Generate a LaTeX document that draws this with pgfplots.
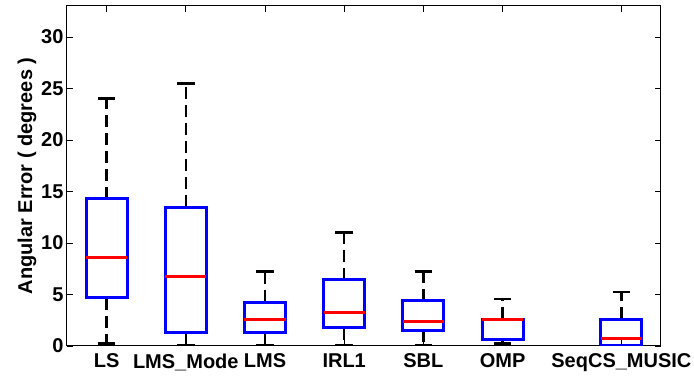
\documentclass[border=0pt]{standalone}
\usepackage{fontspec}
\setmainfont{Liberation Sans}
\usepackage{pgfplots}
\usepgfplotslibrary{statistics}
\pgfplotsset{compat=1.18}
\pgfplotsset{
  boxplot/draw/lower whisker/.code={%
    \draw[black, line width=2.5pt, dash pattern=on 12pt off 6pt]
      (boxplot whisker cs:\pgfplotsboxplotvalue{lower quartile},0.5) --
      (boxplot whisker cs:\pgfplotsboxplotvalue{lower whisker},0.5);
    \draw[black, line width=2.5pt]
      (boxplot whisker cs:\pgfplotsboxplotvalue{lower whisker},0) --
      (boxplot whisker cs:\pgfplotsboxplotvalue{lower whisker},1);
  },
  boxplot/draw/upper whisker/.code={%
    \draw[black, line width=2.5pt, dash pattern=on 12pt off 6pt]
      (boxplot whisker cs:\pgfplotsboxplotvalue{upper quartile},0.5) --
      (boxplot whisker cs:\pgfplotsboxplotvalue{upper whisker},0.5);
    \draw[black, line width=2.5pt]
      (boxplot whisker cs:\pgfplotsboxplotvalue{upper whisker},0) --
      (boxplot whisker cs:\pgfplotsboxplotvalue{upper whisker},1);
  },
  boxplot/every box/.style={draw=blue, line width=3pt, fill=none},
  boxplot/every median/.style={draw=red, line width=3pt},
}
\begin{document}
\begin{tikzpicture}
\begin{axis}[
  scale only axis,
  width=594pt, height=340pt,
  xmin=0.5, xmax=8, ymin=0, ymax=33,
  ytick={0,5,10,15,20,25,30},
  xtick={1,2,3,4,5,6,7.5},
  xticklabels={LS,LMS\_Mode,LMS,IRL1,SBL,OMP,SeqCS\_MUSIC},
  tick align=inside, tick pos=both,
  major tick length=6pt,
  every tick/.style={black, line width=0.8pt},
  axis line style={black, line width=1pt},
  tick label style={font=\fontsize{20}{24}\selectfont\bfseries},
  x tick label style={yshift=-4pt},
  /pgf/number format/assume math mode=true,
  ylabel={Angular Error ( degrees )},
  ylabel style={font=\fontsize{20}{24}\selectfont\bfseries, yshift=-2pt},
  boxplot/draw direction=y,
  boxplot/box extend=0.52,
  boxplot/whisker extend=0.22,
]
\coordinate (sw) at (rel axis cs:0,0);
\addplot[boxplot prepared={lower whisker=0.25, lower quartile=4.7, median=8.58, upper quartile=14.28, upper whisker=24.0, draw position=1}] coordinates {};
\addplot[boxplot prepared={lower whisker=0.1, lower quartile=1.33, median=6.74, upper quartile=13.48, upper whisker=25.5, draw position=2}] coordinates {};
\addplot[boxplot prepared={lower whisker=0.1, lower quartile=1.33, median=2.62, upper quartile=4.25, upper whisker=7.22, draw position=3}] coordinates {};
\addplot[boxplot prepared={lower whisker=0.1, lower quartile=1.78, median=3.27, upper quartile=6.41, upper whisker=11.0, draw position=4}] coordinates {};
\addplot[boxplot prepared={lower whisker=0.1, lower quartile=1.55, median=2.40, upper quartile=4.40, upper whisker=7.22, draw position=5}] coordinates {};
\addplot[boxplot prepared={lower whisker=0.25, lower quartile=0.6, median=2.6, upper quartile=2.62, upper whisker=4.57, draw position=6}] coordinates {};
\addplot[boxplot prepared={lower whisker=0, lower quartile=0, median=0.71, upper quartile=2.59, upper whisker=5.22, draw position=7.5}] coordinates {};
\end{axis}
\pgfresetboundingbox
\path[use as bounding box] ([xshift=-67pt,yshift=-36pt]sw) rectangle ++(694pt,382pt);
\end{tikzpicture}
\end{document}
